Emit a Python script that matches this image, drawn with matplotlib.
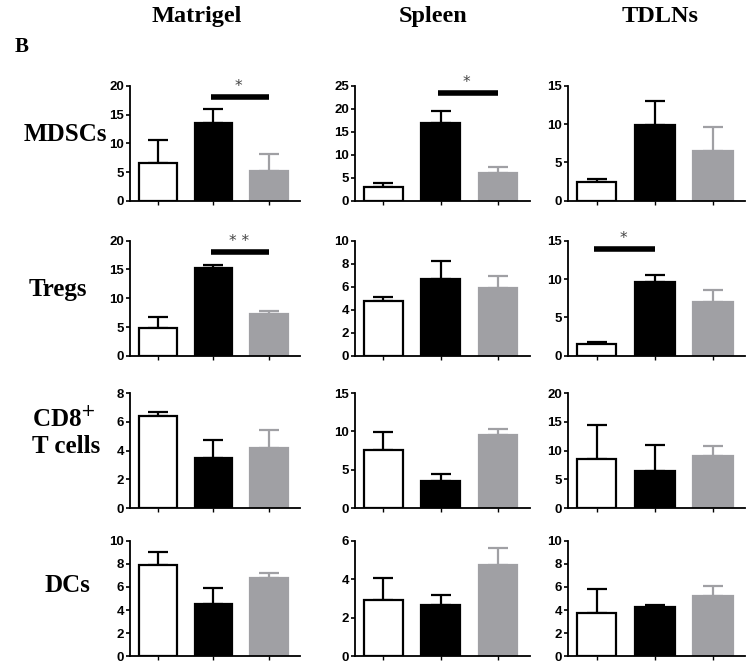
import numpy as np
import matplotlib.pyplot as plt

# column / row labels
tissues = ['Matrigel', 'Spleen', 'TDLNs']
cells = ['MDSCs', 'Tregs', 'CD8$^{+}$\nT cells', 'DCs']

# bar means (white, black, gray) per row, per tissue
mdsc_mean = [[6.5, 13.5, 5.2], [3.1, 17.0, 6.0], [2.5, 9.9, 6.5]]
mdsc_err = [[4.1, 2.5, 2.9], [0.7, 2.6, 1.3], [0.3, 3.1, 3.1]]
treg_mean = [[4.9, 15.3, 7.3], [4.75, 6.65, 5.85], [1.5, 9.6, 7.0]]
treg_err = [[1.8, 0.4, 0.5], [0.35, 1.55, 1.1], [0.3, 0.9, 1.6]]
cd8_mean = [[6.4, 3.5, 4.2], [7.6, 3.5, 9.5], [8.6, 6.5, 9.0]]
cd8_err = [[0.3, 1.25, 1.2], [2.3, 0.9, 0.8], [5.8, 4.5, 1.8]]
dc_mean = [[7.95, 4.5, 6.75], [2.9, 2.65, 4.75], [3.7, 4.3, 5.25]]
dc_err = [[1.1, 1.4, 0.45], [1.15, 0.55, 0.9], [2.1, 0.15, 0.8]]

means = [mdsc_mean, treg_mean, cd8_mean, dc_mean]
errs = [mdsc_err, treg_err, cd8_err, dc_err]

# y-axis max and tick step per panel
ymax = [[20, 25, 15], [20, 10, 15], [8, 15, 20], [10, 6, 10]]
ystep = [[5, 5, 5], [5, 2, 5], [2, 5, 5], [2, 2, 2]]

# significance bars: (row, col, from bar, to bar, y, label)
sig = [(0, 0, 1, 2, 18, '*'), (0, 1, 1, 2, 23.5, '*'),
       (1, 0, 1, 2, 18, '* *'), (1, 2, 0, 1, 13.9, '*')]

face = ['white', 'black', '#a0a0a4']
edge = ['black', 'black', '#a0a0a4']

fig = plt.figure(figsize=(7.5, 6.65), dpi=100)

col_left = [0.173, 0.473, 0.757]
col_w = [0.227, 0.233, 0.236]
row_bot = [0.698, 0.465, 0.236, 0.0135]
row_h = 0.173

x = np.arange(3)
axes = {}
for r in range(4):
    for c in range(3):
        ax = fig.add_axes([col_left[c], row_bot[r], col_w[c], row_h])
        axes[(r, c)] = ax
        m = means[r][c]
        e = errs[r][c]
        for i in range(3):
            ax.bar(x[i], m[i], width=0.68, color=face[i], edgecolor=edge[i],
                   linewidth=1.6, zorder=2)
            ax.errorbar(x[i], m[i], yerr=[[0], [e[i]]], fmt='none',
                        ecolor=edge[i], elinewidth=1.6, capsize=7,
                        capthick=1.6, zorder=1)
        ax.set_xlim(-0.5, 2.55)
        ax.set_ylim(0, ymax[r][c])
        ax.set_yticks(np.arange(0, ymax[r][c] + 0.01, ystep[r][c]))
        ax.set_xticks(x)
        ax.set_xticklabels([])
        for s in ['top', 'right']:
            ax.spines[s].set_visible(False)
        for s in ['left', 'bottom']:
            ax.spines[s].set_linewidth(1.3)
        ax.tick_params(axis='y', length=3, width=1.2, pad=1, labelsize=9.5)
        ax.tick_params(axis='x', length=3, width=1.0)
        for lab in ax.get_yticklabels():
            lab.set_fontweight('bold')
            lab.set_family('Liberation Sans')

for r, c, a, b, y, lab in sig:
    ax = axes[(r, c)]
    ax.plot([a - 0.05, b], [y, y], color='black', linewidth=4,
            solid_capstyle='butt', clip_on=False)
    ax.text((a + b) / 2 - 0.05, y + ymax[r][c] * 0.09, lab, ha='center',
            va='center', fontsize=11, color='#444444', clip_on=False)

serif = dict(family='Liberation Serif', fontweight='bold')
title_x = [0.262, 0.577, 0.88]
for c in range(3):
    fig.text(title_x[c], 0.975, tissues[c], ha='center', va='center',
             fontsize=17.5, **serif)
fig.text(0.02, 0.93, 'B', ha='left', va='center', fontsize=15, **serif)

label_x = [0.087, 0.077, 0.043, 0.09]
label_y = [0.797, 0.565, 0.35, 0.12]
label_ha = ['center', 'center', 'left', 'center']
for r in range(4):
    fig.text(label_x[r], label_y[r], cells[r], ha=label_ha[r], va='center',
             fontsize=18, linespacing=1.2, multialignment='left', **serif)

plt.savefig('out.png', dpi=100)
